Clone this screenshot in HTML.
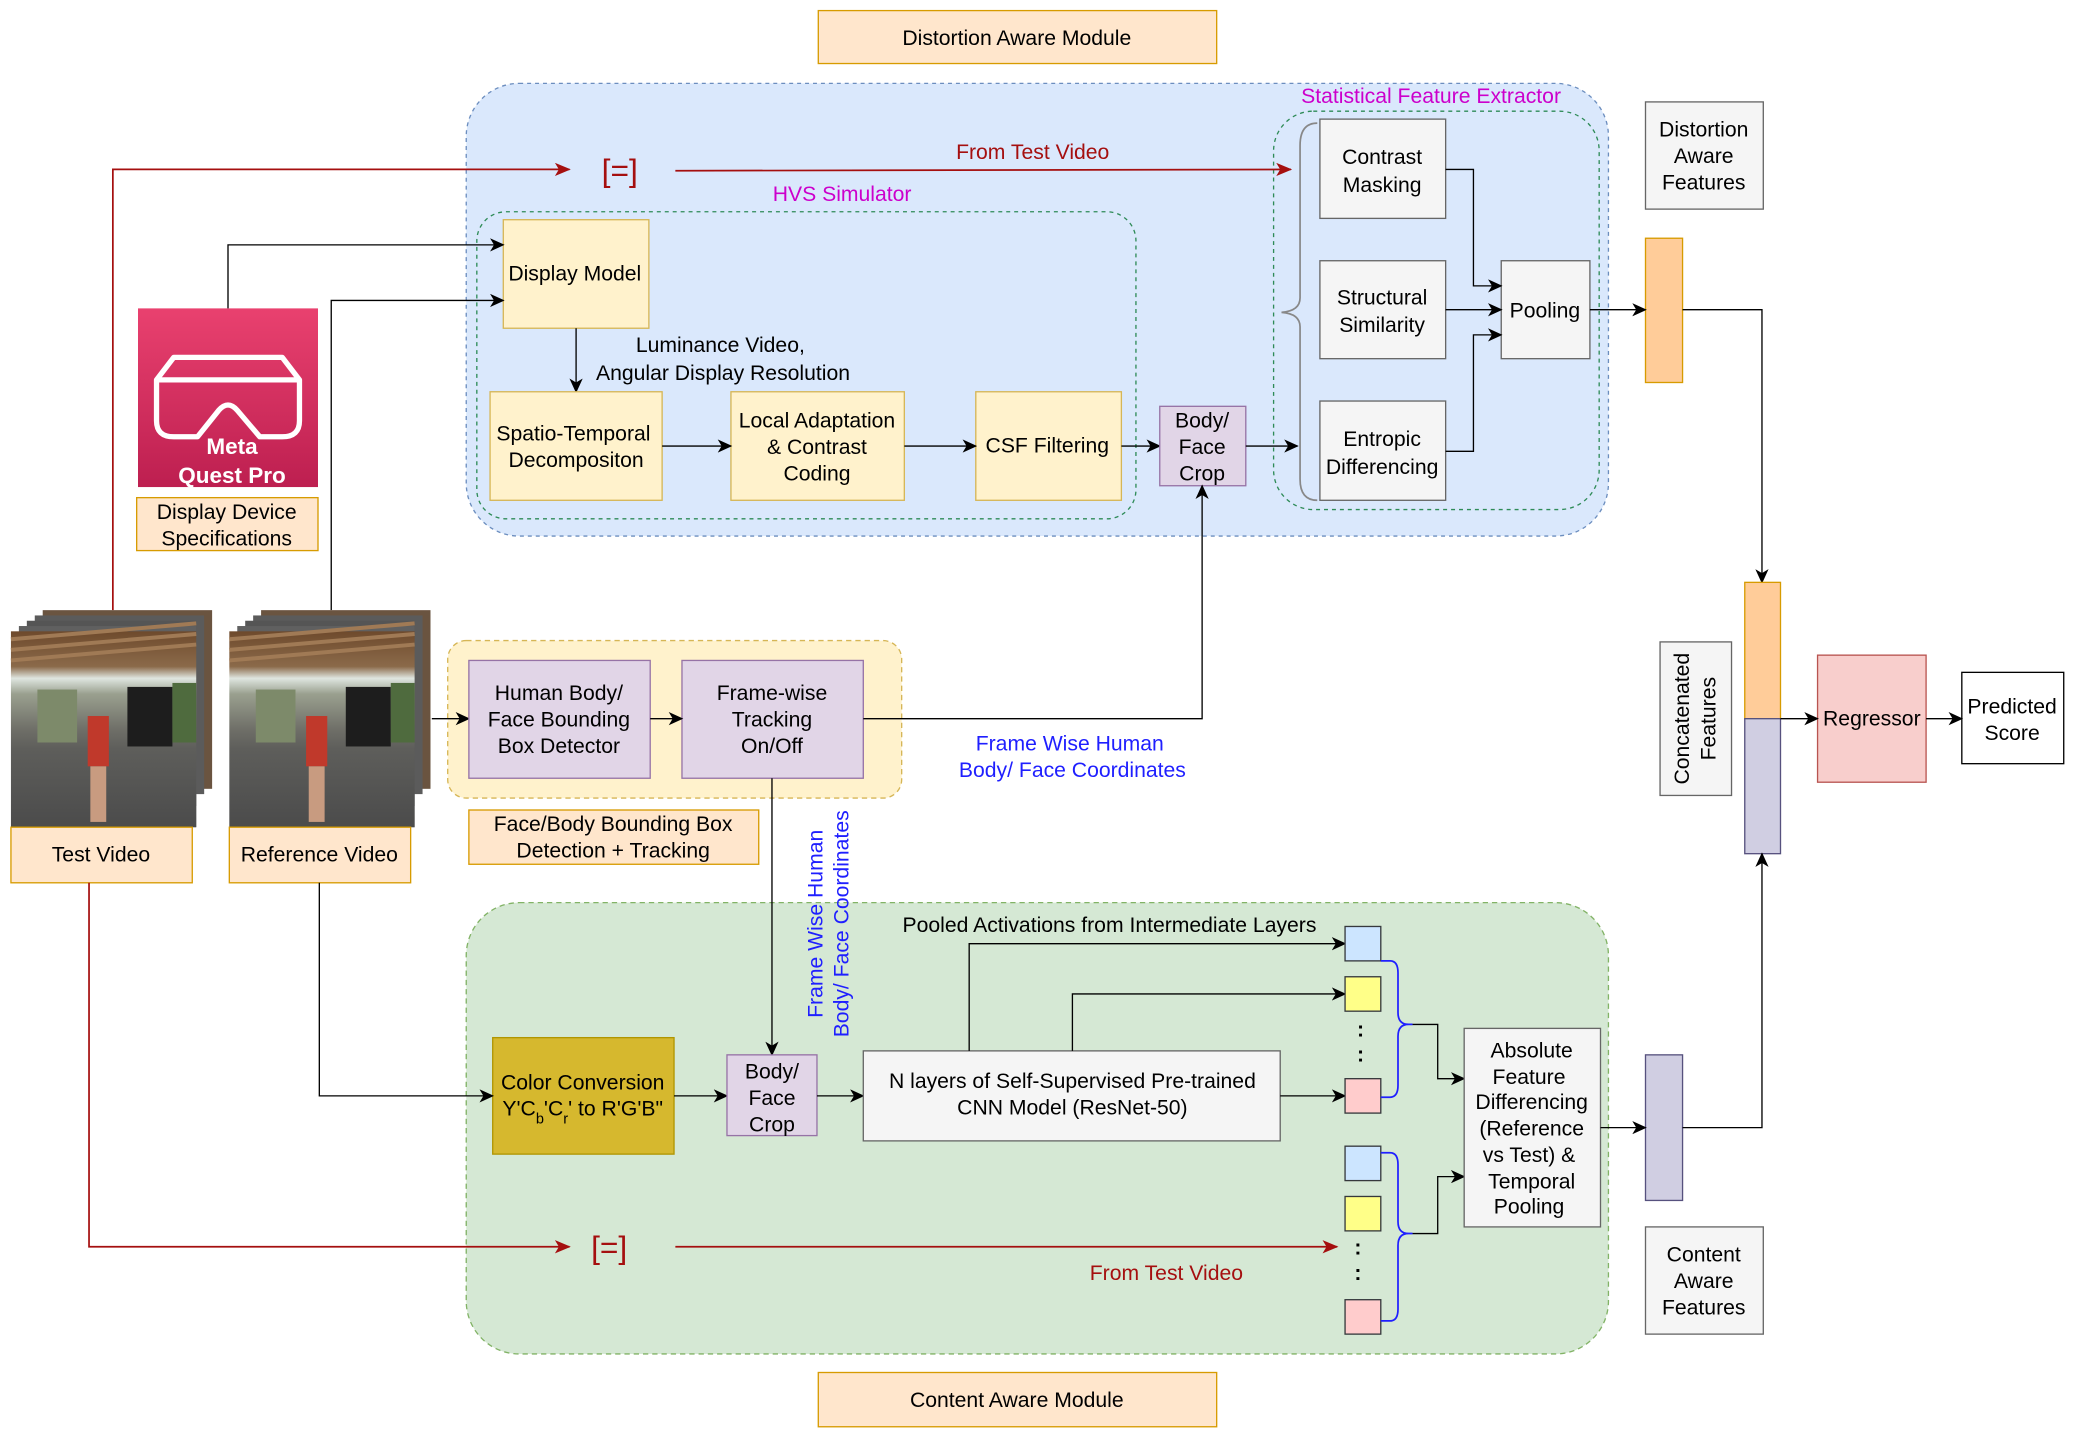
<!DOCTYPE html>
<html><head><meta charset="utf-8"><style>
html,body{margin:0;padding:0;background:#fff;}
svg{display:block;}
text{font-family:"Liberation Sans",Arial,sans-serif;font-size:16px;fill:#000;}
</style></head><body>
<svg width="2076" height="1440" viewBox="0 0 1568 1088" xmlns="http://www.w3.org/2000/svg">
<defs>
<marker id="ab" markerWidth="11" markerHeight="10" refX="10" refY="5" orient="auto" markerUnits="userSpaceOnUse"><path d="M0,0 L11,5 L0,10 L3,5 z" fill="#000"/></marker>
<marker id="ar" markerWidth="12" markerHeight="10" refX="11" refY="5" orient="auto" markerUnits="userSpaceOnUse"><path d="M0,0 L12,5 L0,10 L3,5 z" fill="#a50f0f"/></marker>
<linearGradient id="mq" x1="0" y1="0" x2="0" y2="1"><stop offset="0" stop-color="#e9416f"/><stop offset="1" stop-color="#bd1f50"/></linearGradient>
<linearGradient id="room" x1="0" y1="0" x2="0" y2="1"><stop offset="0" stop-color="#6e4a2c"/><stop offset="0.18" stop-color="#8b6a4a"/><stop offset="0.24" stop-color="#dfe6e0"/><stop offset="0.32" stop-color="#9aa08f"/><stop offset="0.5" stop-color="#6f6f68"/><stop offset="0.6" stop-color="#5e5e5b"/><stop offset="1" stop-color="#4b4b4b"/></linearGradient>
<g id="vid">
<rect x="24" y="0" width="128" height="135" fill="#6a5440"/>
<rect x="18" y="4" width="128" height="135" fill="#5b5b5b"/>
<rect x="12" y="8" width="128" height="140" fill="#555"/>
<rect x="6" y="12" width="134" height="152" fill="#606060"/>
<rect x="0" y="16" width="140" height="148" fill="url(#room)"/>
<path d="M0,22 L140,10 M0,30 L140,18 M0,38 L140,26" stroke="#a07a55" stroke-width="3"/>
<rect x="20" y="60" width="30" height="40" fill="#7d8a6a"/>
<rect x="88" y="58" width="34" height="45" fill="#1d1d1d"/>
<rect x="122" y="55" width="18" height="45" fill="#4f6b3e"/>
<rect x="58" y="80" width="16" height="38" fill="#c0392b"/>
<rect x="60" y="118" width="12" height="42" fill="#c89b80"/>
</g>
</defs>

<rect x="618" y="8" width="301" height="40" fill="#ffe6cc" stroke="#d79b00"/>
<text x="768" y="34" text-anchor="middle">Distortion Aware Module</text>

<rect x="352" y="63" width="863" height="342" rx="40" fill="#dae8fc" stroke="#6c8ebf" stroke-dasharray="3,3"/>
<rect x="962" y="84" width="246" height="301" rx="30" fill="none" stroke="#2e8b57" stroke-dasharray="3,3"/>
<text x="1081" y="78" text-anchor="middle" style="fill:#cc00cc">Statistical Feature Extractor</text>
<rect x="360" y="160" width="498" height="232" rx="22" fill="none" stroke="#2e8b57" stroke-dasharray="3,3"/>
<text x="636" y="152" text-anchor="middle" style="fill:#cc00cc">HVS Simulator</text>

<rect x="380" y="166" width="110" height="82" fill="#fff2cc" stroke="#d6b656"/>
<text x="434" y="212" text-anchor="middle">Display Model</text>
<text x="544" y="266" text-anchor="middle">Luminance Video,</text>
<text x="546" y="287" text-anchor="middle">Angular Display Resolution</text>
<line x1="435" y1="248" x2="435" y2="296" stroke="#000" marker-end="url(#ab)"/>

<rect x="370" y="296" width="130" height="82" fill="#fff2cc" stroke="#d6b656"/>
<text x="433" y="333" text-anchor="middle">Spatio-Temporal</text>
<text x="435" y="353" text-anchor="middle">Decompositon</text>
<rect x="552" y="296" width="131" height="82" fill="#fff2cc" stroke="#d6b656"/>
<text x="617" y="323" text-anchor="middle">Local Adaptation</text>
<text x="617" y="343" text-anchor="middle">&amp; Contrast</text>
<text x="617" y="363" text-anchor="middle">Coding</text>
<rect x="737" y="296" width="110" height="82" fill="#fff2cc" stroke="#d6b656"/>
<text x="791" y="342" text-anchor="middle">CSF Filtering</text>
<line x1="500" y1="337" x2="552" y2="337" stroke="#000" marker-end="url(#ab)"/>
<line x1="683" y1="337" x2="737" y2="337" stroke="#000" marker-end="url(#ab)"/>
<line x1="847" y1="337" x2="876" y2="337" stroke="#000" marker-end="url(#ab)"/>

<rect x="876" y="307" width="65" height="60" fill="#e1d5e7" stroke="#9673a6"/>
<text x="908" y="323" text-anchor="middle">Body/</text>
<text x="908" y="343" text-anchor="middle">Face</text>
<text x="908" y="363" text-anchor="middle">Crop</text>
<line x1="941" y1="337" x2="980" y2="337" stroke="#000" marker-end="url(#ab)"/>

<path d="M995,93 Q982,93 982,110 L982,225 Q982,235 968,236 Q982,237 982,247 L982,362 Q982,378 995,378" fill="none" stroke="#888" stroke-width="1.3"/>

<rect x="997" y="90" width="95" height="75" fill="#f5f5f5" stroke="#666"/>
<text x="1044" y="124" text-anchor="middle">Contrast</text>
<text x="1044" y="145" text-anchor="middle">Masking</text>
<rect x="997" y="197" width="95" height="74" fill="#f5f5f5" stroke="#666"/>
<text x="1044" y="230" text-anchor="middle">Structural</text>
<text x="1044" y="251" text-anchor="middle">Similarity</text>
<rect x="997" y="303" width="95" height="75" fill="#f5f5f5" stroke="#666"/>
<text x="1044" y="337" text-anchor="middle">Entropic</text>
<text x="1044" y="358" text-anchor="middle">Differencing</text>
<rect x="1134" y="197" width="67" height="74" fill="#f5f5f5" stroke="#666"/>
<text x="1167" y="240" text-anchor="middle">Pooling</text>
<polyline points="1092,128 1113,128 1113,216 1134,216" fill="none" stroke="#000" marker-end="url(#ab)"/>
<line x1="1092" y1="234" x2="1134" y2="234" stroke="#000" marker-end="url(#ab)"/>
<polyline points="1092,341 1113,341 1113,253 1134,253" fill="none" stroke="#000" marker-end="url(#ab)"/>

<polyline points="85,461 85,128 430,128" fill="none" stroke="#a50f0f" stroke-width="1.3" marker-end="url(#ar)"/>
<text x="468" y="137" text-anchor="middle" style="fill:#a50f0f;font-size:24px">[=]</text>
<line x1="510" y1="129" x2="975" y2="128" stroke="#a50f0f" stroke-width="1.3" marker-end="url(#ar)"/>
<text x="780" y="120" text-anchor="middle" style="fill:#a50f0f">From Test Video</text>

<rect x="1243" y="77" width="89" height="81" fill="#f5f5f5" stroke="#666"/>
<text x="1287" y="103" text-anchor="middle">Distortion</text>
<text x="1287" y="123" text-anchor="middle">Aware</text>
<text x="1287" y="143" text-anchor="middle">Features</text>
<rect x="1243" y="180" width="28" height="109" fill="#ffcc99" stroke="#d79b00"/>
<line x1="1201" y1="234" x2="1243" y2="234" stroke="#000" marker-end="url(#ab)"/>
<polyline points="1271,234 1331,234 1331,440" fill="none" stroke="#000" marker-end="url(#ab)"/>

<rect x="1318" y="440" width="27" height="103" fill="#ffcc99" stroke="#d79b00"/>
<rect x="1318" y="543" width="27" height="102" fill="#d0cee2" stroke="#56517e"/>
<rect x="1254" y="485" width="54" height="116" fill="#f5f5f5" stroke="#666"/>
<text transform="translate(1276,543) rotate(-90)" text-anchor="middle">Concatenated</text>
<text transform="translate(1296,543) rotate(-90)" text-anchor="middle">Features</text>
<rect x="1373" y="495" width="82" height="96" fill="#f8cecc" stroke="#b85450"/>
<text x="1414" y="548" text-anchor="middle">Regressor</text>
<rect x="1482" y="508" width="77" height="69" fill="#fff" stroke="#000"/>
<text x="1520" y="539" text-anchor="middle">Predicted</text>
<text x="1520" y="559" text-anchor="middle">Score</text>
<line x1="1345" y1="543" x2="1373" y2="543" stroke="#000" marker-end="url(#ab)"/>
<line x1="1455" y1="543" x2="1482" y2="543" stroke="#000" marker-end="url(#ab)"/>

<rect x="104" y="233" width="136" height="135" fill="url(#mq)"/>
<path d="M118,287 L131,270 L213,270 L226,287 L226,318 Q226,330 213,330 L196,330 L179,310 Q172,302 165,310 L149,330 L131,330 Q118,330 118,318 Z" fill="none" stroke="#fff" stroke-width="4" stroke-linejoin="round"/>
<line x1="118" y1="287" x2="226" y2="287" stroke="#fff" stroke-width="4"/>
<text x="175" y="343" text-anchor="middle" style="fill:#fff;font-weight:bold;font-size:17px">Meta</text>
<text x="175" y="365" text-anchor="middle" style="fill:#fff;font-weight:bold;font-size:17px">Quest Pro</text>
<rect x="103" y="376" width="137" height="40" fill="#ffe6cc" stroke="#d79b00"/>
<text x="171" y="392" text-anchor="middle">Display Device</text>
<text x="171" y="412" text-anchor="middle">Specifications</text>
<polyline points="172,233 172,185 380,185" fill="none" stroke="#000" marker-end="url(#ab)"/>
<polyline points="250,461 250,227 380,227" fill="none" stroke="#000" marker-end="url(#ab)"/>

<use href="#vid" x="8" y="461"/>
<use href="#vid" x="173" y="461"/>
<rect x="8" y="625" width="137" height="42" fill="#ffe6cc" stroke="#d79b00"/>
<text x="76" y="651" text-anchor="middle">Test Video</text>
<rect x="173" y="625" width="137" height="42" fill="#ffe6cc" stroke="#d79b00"/>
<text x="241" y="651" text-anchor="middle">Reference Video</text>

<rect x="338" y="484" width="343" height="119" rx="14" fill="#fff2cc" stroke="#d6b656" stroke-dasharray="4,3"/>
<line x1="326" y1="543" x2="354" y2="543" stroke="#000" marker-end="url(#ab)"/>
<rect x="354" y="499" width="137" height="89" fill="#e1d5e7" stroke="#9673a6"/>
<text x="422" y="529" text-anchor="middle">Human Body/</text>
<text x="422" y="549" text-anchor="middle">Face Bounding</text>
<text x="422" y="569" text-anchor="middle">Box Detector</text>
<rect x="515" y="499" width="137" height="89" fill="#e1d5e7" stroke="#9673a6"/>
<text x="583" y="529" text-anchor="middle">Frame-wise</text>
<text x="583" y="549" text-anchor="middle">Tracking</text>
<text x="583" y="569" text-anchor="middle">On/Off</text>
<line x1="491" y1="543" x2="515" y2="543" stroke="#000" marker-end="url(#ab)"/>
<rect x="354" y="612" width="219" height="41" fill="#ffe6cc" stroke="#d79b00"/>
<text x="463" y="628" text-anchor="middle">Face/Body Bounding Box</text>
<text x="463" y="648" text-anchor="middle">Detection + Tracking</text>
<polyline points="652,543 908,543 908,367" fill="none" stroke="#000" marker-end="url(#ab)"/>
<text x="808" y="567" text-anchor="middle" style="fill:#1f1fff">Frame Wise Human</text>
<text x="810" y="587" text-anchor="middle" style="fill:#1f1fff">Body/ Face Coordinates</text>

<rect x="352" y="682" width="863" height="341" rx="40" fill="#d5e8d4" stroke="#82b366" stroke-dasharray="4,3"/>
<line x1="583" y1="588" x2="583" y2="797" stroke="#000" marker-end="url(#ab)"/>
<text transform="translate(621,698) rotate(-90)" text-anchor="middle" style="fill:#1f1fff">Frame Wise Human</text>
<text transform="translate(641,698) rotate(-90)" text-anchor="middle" style="fill:#1f1fff">Body/ Face Coordinates</text>

<rect x="372" y="784" width="137" height="88" fill="#d6b82e" stroke="#b09500"/>
<text x="440" y="823" text-anchor="middle">Color Conversion</text>
<text x="440" y="843" text-anchor="middle">Y'C<tspan baseline-shift="sub" font-size="11">b</tspan>'C<tspan baseline-shift="sub" font-size="11">r</tspan>' to R'G'B"</text>
<polyline points="241,667 241,828 372,828" fill="none" stroke="#000" marker-end="url(#ab)"/>
<line x1="509" y1="828" x2="549" y2="828" stroke="#000" marker-end="url(#ab)"/>
<rect x="549" y="797" width="68" height="61" fill="#e1d5e7" stroke="#9673a6"/>
<text x="583" y="815" text-anchor="middle">Body/</text>
<text x="583" y="835" text-anchor="middle">Face</text>
<text x="583" y="855" text-anchor="middle">Crop</text>
<line x1="617" y1="828" x2="652" y2="828" stroke="#000" marker-end="url(#ab)"/>
<rect x="652" y="794" width="315" height="68" fill="#f5f5f5" stroke="#666"/>
<text x="810" y="822" text-anchor="middle">N layers of Self-Supervised Pre-trained</text>
<text x="810" y="842" text-anchor="middle">CNN Model (ResNet-50)</text>
<text x="838" y="704" text-anchor="middle">Pooled Activations from Intermediate Layers</text>
<polyline points="732,794 732,713 1016,713" fill="none" stroke="#000" marker-end="url(#ab)"/>
<polyline points="810,794 810,751 1016,751" fill="none" stroke="#000" marker-end="url(#ab)"/>
<line x1="967" y1="828" x2="1016" y2="828" stroke="#000" marker-end="url(#ab)"/>

<rect x="1016" y="700" width="27" height="26" fill="#cce5ff" stroke="#36393d"/>
<rect x="1016" y="738" width="27" height="26" fill="#ffff88" stroke="#36393d"/>
<text x="1025" y="783" style="font-weight:bold">:</text>
<text x="1025" y="802" style="font-weight:bold">:</text>
<rect x="1016" y="815" width="27" height="26" fill="#ffcccc" stroke="#36393d"/>
<rect x="1016" y="866" width="27" height="26" fill="#cce5ff" stroke="#36393d"/>
<rect x="1016" y="904" width="27" height="26" fill="#ffff88" stroke="#36393d"/>
<text x="1023" y="948" style="font-weight:bold">:</text>
<text x="1023" y="967" style="font-weight:bold">:</text>
<rect x="1016" y="982" width="27" height="26" fill="#ffcccc" stroke="#36393d"/>

<path d="M1043,726 L1050,726 Q1056,726 1056,735 L1056,765 Q1056,774 1064,774 L1067,774 M1043,829 L1050,829 Q1056,829 1056,820 L1056,783 Q1056,774 1064,774" fill="none" stroke="#1f1fff" stroke-width="1.3"/>
<path d="M1043,871 L1050,871 Q1056,871 1056,880 L1056,923 Q1056,932 1064,932 L1067,932 M1043,998 L1050,998 Q1056,998 1056,989 L1056,941 Q1056,932 1064,932" fill="none" stroke="#1f1fff" stroke-width="1.3"/>
<polyline points="1067,774 1086,774 1086,815 1106,815" fill="none" stroke="#000" marker-end="url(#ab)"/>
<polyline points="1067,932 1086,932 1086,889 1106,889" fill="none" stroke="#000" marker-end="url(#ab)"/>

<rect x="1106" y="777" width="103" height="150" fill="#f5f5f5" stroke="#666"/>
<text x="1157" y="799" text-anchor="middle">Absolute</text>
<text x="1155" y="819" text-anchor="middle">Feature</text>
<text x="1157" y="838" text-anchor="middle">Differencing</text>
<text x="1157" y="858" text-anchor="middle">(Reference</text>
<text x="1155" y="878" text-anchor="middle">vs Test) &amp;</text>
<text x="1157" y="898" text-anchor="middle">Temporal</text>
<text x="1155" y="917" text-anchor="middle">Pooling</text>

<rect x="1243" y="797" width="28" height="110" fill="#d0cee2" stroke="#56517e"/>
<line x1="1209" y1="852" x2="1243" y2="852" stroke="#000" marker-end="url(#ab)"/>
<polyline points="1271,852 1331,852 1331,645" fill="none" stroke="#000" marker-end="url(#ab)"/>
<rect x="1243" y="927" width="89" height="81" fill="#f5f5f5" stroke="#666"/>
<text x="1287" y="953" text-anchor="middle">Content</text>
<text x="1287" y="973" text-anchor="middle">Aware</text>
<text x="1287" y="993" text-anchor="middle">Features</text>

<polyline points="67,667 67,942 430,942" fill="none" stroke="#a50f0f" stroke-width="1.3" marker-end="url(#ar)"/>
<text x="460" y="951" text-anchor="middle" style="fill:#a50f0f;font-size:24px">[=]</text>
<line x1="510" y1="942" x2="1010" y2="942" stroke="#a50f0f" stroke-width="1.3" marker-end="url(#ar)"/>
<text x="881" y="967" text-anchor="middle" style="fill:#a50f0f">From Test Video</text>

<rect x="618" y="1037" width="301" height="41" fill="#ffe6cc" stroke="#d79b00"/>
<text x="768" y="1063" text-anchor="middle">Content Aware Module</text>
</svg>
</body></html>
